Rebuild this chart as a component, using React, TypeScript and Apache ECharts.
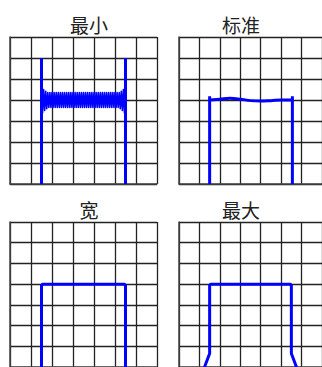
import React, { useEffect, useRef } from "react";
import * as echarts from "echarts";

const titles = ["最小", "标准", "宽", "最大"];
const gridTicks = [0, 1, 2, 3, 4, 5, 6, 7];

// Panel 1 (最小)
const minLeft = [[1.5, 0], [1.5, 6]];
const minRight = [[5.5, 0], [5.5, 6]];
const minBand = [
  [1.50, 4.60], [1.55, 3.40], [1.60, 4.50], [1.65, 3.50], [1.70, 4.42], [1.75, 3.58], [1.80, 4.36], [1.85, 3.64],
  [1.90, 4.35], [1.95, 3.65], [2.00, 4.35], [2.05, 3.65], [2.10, 4.35], [2.15, 3.65], [2.20, 4.35], [2.25, 3.65],
  [2.30, 4.35], [2.35, 3.65], [2.40, 4.35], [2.45, 3.65], [2.50, 4.35], [2.55, 3.65], [2.60, 4.35], [2.65, 3.65],
  [2.70, 4.35], [2.75, 3.65], [2.80, 4.35], [2.85, 3.65], [2.90, 4.35], [2.95, 3.65], [3.00, 4.35], [3.05, 3.65],
  [3.10, 4.35], [3.15, 3.65], [3.20, 4.35], [3.25, 3.65], [3.30, 4.35], [3.35, 3.65], [3.40, 4.35], [3.45, 3.65],
  [3.50, 4.35], [3.55, 3.65], [3.60, 4.35], [3.65, 3.65], [3.70, 4.35], [3.75, 3.65], [3.80, 4.35], [3.85, 3.65],
  [3.90, 4.35], [3.95, 3.65], [4.00, 4.35], [4.05, 3.65], [4.10, 4.35], [4.15, 3.65], [4.20, 4.35], [4.25, 3.65],
  [4.30, 4.35], [4.35, 3.65], [4.40, 4.35], [4.45, 3.65], [4.50, 4.35], [4.55, 3.65], [4.60, 4.35], [4.65, 3.65],
  [4.70, 4.35], [4.75, 3.65], [4.80, 4.35], [4.85, 3.65], [4.90, 4.35], [4.95, 3.65], [5.00, 4.35], [5.05, 3.65],
  [5.10, 4.35], [5.15, 3.64], [5.20, 4.36], [5.25, 3.58], [5.30, 4.42], [5.35, 3.50], [5.40, 4.50], [5.45, 3.40],
  [5.50, 4.60],
];

// Panel 2 (标准)
const stdLeft = [[1.5, 0], [1.5, 4.18]];
const stdRight = [[5.55, 0], [5.55, 4.18]];
const stdTop = [[1.5, 4.0], [2.0, 4.04], [2.5, 4.08], [3.0, 4.04], [3.5, 3.97], [4.0, 3.95], [4.5, 3.97], [5.0, 4.0], [5.55, 4.0]];

// Panel 3 (宽)
const wideShape = [[1.5, 0], [1.5, 3.94], [1.56, 4.0], [5.44, 4.0], [5.5, 3.94], [5.5, 0]];

// Panel 4 (最大)
const maxShape = [[1.25, 0], [1.5, 0.65], [1.5, 3.94], [1.56, 4.0], [5.44, 4.0], [5.5, 3.94], [5.5, 0.65], [5.75, 0]];

const grids = [
  { left: 10, top: 37, width: 147, height: 147 },
  { left: 179, top: 37, width: 147, height: 147 },
  { left: 10, top: 222, width: 147, height: 147 },
  { left: 179, top: 222, width: 147, height: 147 },
];
const titlePos = [[89, 24], [241, 24], [89, 209], [241, 209]];

export default function App() {
  const ref = useRef<HTMLDivElement>(null);
  useEffect(() => {
    if (!ref.current) return;
    const chart = echarts.init(ref.current, null, { renderer: "svg" });
    const axisCommon = {
      type: "value",
      min: gridTicks[0],
      max: gridTicks[gridTicks.length - 1],
      interval: 1,
      axisLabel: { show: false },
      axisTick: { show: false },
      axisLine: { show: true, lineStyle: { color: "#444", width: 1.5 } },
      splitLine: { show: true, lineStyle: { color: "#222", width: 1.3 } },
    };
    const blue = "#0000ff";
    const mk = (idx: number, data: number[][], w = 3, smooth: any = false) => ({
      type: "line",
      xAxisIndex: idx,
      yAxisIndex: idx,
      data,
      symbol: "none",
      smooth,
      lineStyle: { color: blue, width: w, join: "round", cap: "butt" },
      z: 5,
    });
    chart.setOption({
      animation: false,
      grid: grids.map((g) => ({ ...g, show: false })),
      xAxis: grids.map((_, i) => ({ ...axisCommon, gridIndex: i })),
      yAxis: grids.map((_, i) => ({ ...axisCommon, gridIndex: i })),
      series: [
        mk(0, minBand, 1.6),
        mk(0, minLeft, 3),
        mk(0, minRight, 3),
        mk(1, stdLeft, 3),
        mk(1, stdRight, 3),
        mk(1, stdTop, 3, 0.4),
        mk(2, wideShape, 3),
        mk(3, maxShape, 3),
      ],
      graphic: titles.map((t, i) => ({
        type: "text",
        x: titlePos[i][0],
        y: titlePos[i][1],
        style: {
          text: t,
          fill: "#222",
          font: '19px "Noto Sans CJK SC"',
          align: "center",
          verticalAlign: "middle",
        },
      })),
    });
    return () => chart.dispose();
  }, []);
  return (
    <div
      ref={ref}
      style={{ position: "fixed", left: 0, top: 0, width: 322, height: 367, background: "#fff" }}
    />
  );
}
